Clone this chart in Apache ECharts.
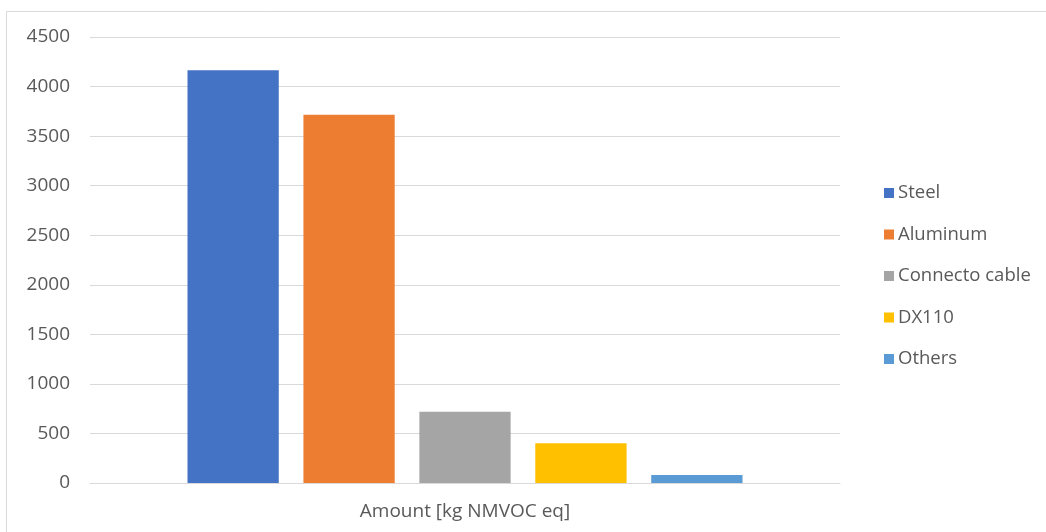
<!DOCTYPE html>
<html>
<head>
<meta charset="utf-8">
<script src="https://cdn.jsdelivr.net/npm/echarts@6/dist/echarts.min.js"></script>
<style>
  html, body { margin: 0; padding: 0; background: #fff; }
  #chart { width: 1046px; height: 532px; }
</style>
</head>
<body>
<div id="chart"></div>
<script>
// Category on the x axis
const categories = ['Amount [kg NMVOC eq]'];

// One bar per material
const seriesNames = ['Steel', 'Aluminum', 'Connecto cable', 'DX110', 'Others'];
const seriesValues = [4165, 3715, 720, 402, 80];
const seriesColors = ['#4472C4', '#ED7D31', '#A5A5A5', '#FFC000', '#5B9BD5'];

// Value axis range
const yMin = 0;
const yMax = 4500;
const yStep = 500;

const textColor = '#595959';
const fontFamily = '"Open Sans", "Noto Sans", sans-serif';

const chart = echarts.init(document.getElementById('chart'), null, { renderer: 'canvas' });

chart.setOption({
  animation: false,
  backgroundColor: '#ffffff',
  textStyle: { fontFamily: fontFamily },
  graphic: [{
    type: 'rect',
    left: 4, top: 9,
    shape: { width: 1060, height: 540 },
    style: { fill: 'none', stroke: '#d9d9d9', lineWidth: 1 },
    silent: true
  }],
  grid: { left: 90, right: 206, top: 37, bottom: 49, containLabel: false },
  legend: {
    orient: 'vertical',
    left: 879,
    top: 177,
    icon: 'rect',
    itemWidth: 10,
    itemHeight: 10,
    itemGap: 19.5,
    textStyle: { color: textColor, fontSize: 18.5, fontFamily: fontFamily, lineHeight: 22, padding: [0, 0, 0, -1] },
    data: seriesNames
  },
  xAxis: {
    type: 'category',
    data: categories,
    axisLine: { show: true, lineStyle: { color: '#d9d9d9', width: 1 } },
    axisTick: { show: false },
    axisLabel: { color: textColor, fontSize: 19, margin: 19, fontFamily: fontFamily }
  },
  yAxis: {
    type: 'value',
    min: yMin,
    max: yMax,
    interval: yStep,
    axisLine: { show: false },
    axisTick: { show: false },
    axisLabel: {
      color: textColor, fontSize: 19, margin: 20, fontFamily: fontFamily,
      formatter: (v) => String(v)
    },
    splitLine: { lineStyle: { color: '#d9d9d9', width: 1 } }
  },
  series: seriesNames.map((name, i) => ({
    name: name,
    type: 'bar',
    data: [seriesValues[i]],
    barGap: '27%',
    barCategoryGap: '26%',
    itemStyle: { color: seriesColors[i] }
  }))
});
</script>
</body>
</html>
